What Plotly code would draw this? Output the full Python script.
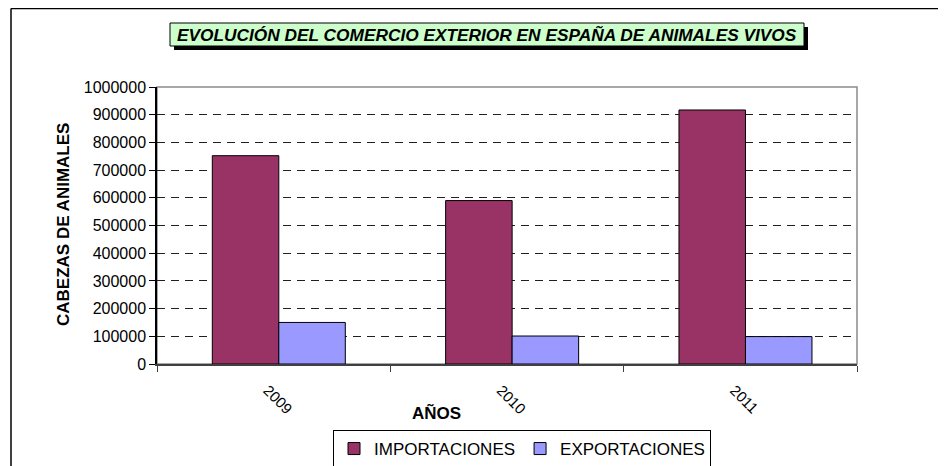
import plotly.graph_objects as go

years = ["2009", "2010", "2011"]
importaciones = [752000, 590000, 917000]
exportaciones = [150000, 101000, 99000]
y_ticks = [0, 100000, 200000, 300000, 400000, 500000, 600000, 700000, 800000, 900000, 1000000]

OFF = 8  # page body margin offset
W, H = 946 - OFF, 466 - OFF
L, R, T, B = 157 - OFF, 857 - OFF, 87 - OFF, 364 - OFF

def px(x):
    return (x - OFF - L) / (R - L)

def py(y):
    return (B - (y - OFF)) / (B - T)

FONT = "Liberation Sans, Arial, sans-serif"
BW = 0.285  # bar width in category units

fig = go.Figure()
fig.add_trace(go.Bar(x=years, y=importaciones, name="IMPORTACIONES", width=BW, offset=-BW + 0.022,
                     marker=dict(color="#993366", line=dict(color="#000000", width=1))))
fig.add_trace(go.Bar(x=years, y=exportaciones, name="EXPORTACIONES", width=BW, offset=0.022,
                     marker=dict(color="#9999FF", line=dict(color="#000000", width=1))))

shapes = [
    dict(type="rect", xref="paper", yref="paper", x0=0, x1=1, y0=0, y1=1,
         line=dict(color="#8c8c8c", width=1.5), layer="below"),
    dict(type="line", xref="paper", yref="paper", x0=px(11), x1=px(11), y0=py(8.5), y1=py(480),
         line=dict(color="#000000", width=1.5)),
    dict(type="line", xref="paper", yref="paper", x0=px(11), x1=px(960), y0=py(8.6), y1=py(8.6),
         line=dict(color="#000000", width=1.5)),
    dict(type="rect", xref="paper", yref="paper", x0=px(174), x1=px(808), y0=py(27), y1=py(50),
         fillcolor="#000000", line=dict(width=0)),
    dict(type="rect", xref="paper", yref="paper", x0=px(170), x1=px(804), y0=py(23), y1=py(46),
         fillcolor="#CCFFCC", line=dict(color="#000000", width=1)),
]

annotations = [
    dict(text="<b><i>EVOLUCIÓN DEL COMERCIO EXTERIOR EN ESPAÑA DE ANIMALES VIVOS</i></b>",
         xref="paper", yref="paper", x=px(487), y=py(35), showarrow=False,
         xanchor="center", yanchor="middle", font=dict(family=FONT, size=17.3, color="#000000")),
    dict(text="<b>CABEZAS DE ANIMALES</b>", xref="paper", yref="paper", x=px(63), y=py(225),
         showarrow=False, textangle=-90, xanchor="center", yanchor="middle",
         font=dict(family=FONT, size=17, color="#000000")),
    dict(text="<b>AÑOS</b>", xref="paper", yref="paper", x=px(436), y=py(413),
         showarrow=False, xanchor="center", yanchor="middle",
         font=dict(family=FONT, size=17, color="#000000")),
]

fig.update_layout(
    width=W, height=H,
    margin=dict(l=L, r=W - R, t=T, b=H - B, pad=0, autoexpand=False),
    paper_bgcolor="#FFFFFF", plot_bgcolor="#FFFFFF",
    barmode="group", bargap=0.43, bargroupgap=0,
    showlegend=True,
    legend=dict(orientation="h", x=px(522), y=py(449), xanchor="center", yanchor="middle",
                bordercolor="#000000", borderwidth=1, bgcolor="#FFFFFF",
                font=dict(family=FONT, size=17, color="#000000"),
                itemwidth=30, traceorder="normal", tracegroupgap=0),
    shapes=shapes, annotations=annotations,
    font=dict(family=FONT, size=17, color="#000000"),
)
fig.update_xaxes(
    type="category", showline=True, linecolor="#404040", linewidth=1.5,
    ticks="outside", ticklen=6, tickcolor="#404040", tickson="boundaries",
    tickangle=45, ticklabelshift=-6, ticklabelstandoff=10,
    tickfont=dict(family=FONT, size=15, color="#000000"),
    showgrid=False, fixedrange=True, automargin=False,
)
fig.update_yaxes(
    range=[0, 1000000], tickvals=y_ticks, ticktext=[str(v) for v in y_ticks],
    showline=True, linecolor="#000000", linewidth=1.5,
    ticks="outside", ticklen=6, tickcolor="#000000",
    tickfont=dict(family=FONT, size=16, color="#000000"),
    showgrid=True, gridcolor="#202020", gridwidth=1, griddash="8px,6px",
    zeroline=False, fixedrange=True, automargin=False,
)

fig.write_html("out.html")
